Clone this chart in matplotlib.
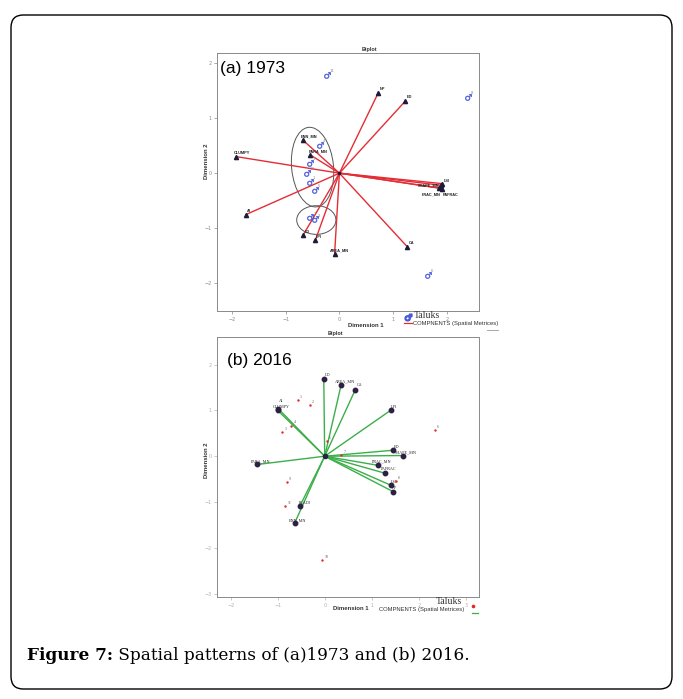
import matplotlib
matplotlib.use("Agg")
import matplotlib.pyplot as plt
from matplotlib.patches import Ellipse, FancyBboxPatch
from matplotlib.lines import Line2D

W, H = 683, 699

# ---- 1973 biplot data ----
metrics_73 = ['NP', 'ED', 'ENN_MN', 'PARA_MN', 'CLUMPY', 'AI', 'LSI', 'SHAPE_MN',
              'FRAC_MN', 'PAFRAC', 'CA', 'LD', 'LPI', 'AREA_MN']
dim1_73 = [0.72, 1.23, -0.68, -0.54, -1.92, -1.74, 1.92, 1.90, 1.86, 1.92, 1.26, -0.68, -0.45, -0.09]
dim2_73 = [1.45, 1.31, 0.60, 0.33, 0.30, -0.75, -0.19, -0.22, -0.27, -0.28, -1.33, -1.13, -1.22, -1.47]

taluk_73 = ['11', '8', '4', '9', '10', '1', '5', '7', '3', '6']
t_dim1_73 = [-0.23, 2.40, -0.36, -0.54, -0.60, -0.55, -0.45, -0.54, -0.45, 1.65]
t_dim2_73 = [1.79, 1.39, 0.52, 0.19, 0.00, -0.16, -0.30, -0.80, -0.84, -1.85]

# ---- 2016 biplot data ----
metrics_16 = ['LD', 'AREA_MN', 'CA', 'LPI', 'AI', 'CLUMPY', 'ED', 'SHAPE_MN', 'FRAC_MN',
              'PAFRAC', 'PARA_MN', 'LSI', 'NP', 'PLADJ', 'ENN_MN']
dim1_16 = [-0.02, 0.35, 0.65, 1.40, -0.99, -1.00, 1.45, 1.66, 1.14, 1.28, -1.43, 1.40, 1.45, -0.53, -0.64]
dim2_16 = [1.69, 1.56, 1.45, 1.00, 1.04, 1.00, 0.13, 0.015, -0.20, -0.37, -0.18, -0.63, -0.77, -1.09, -1.46]

taluk_16 = ['1', '2', '4', '3', '5', '6', '7', '8', '9', '11', '10']
t_dim1_16 = [-0.57, -0.32, -0.71, -0.90, 0.04, 2.34, 0.35, 1.52, -0.81, -0.84, -0.05]
t_dim2_16 = [1.22, 1.12, 0.67, 0.53, 0.33, 0.58, 0.02, -0.55, -0.56, -1.09, -2.27]

# label offsets (points) for the metric names
off_73 = {'NP': (1, 2, 'left'), 'ED': (1, 2, 'left'), 'ENN_MN': (-1.5, 2, 'left'),
          'PARA_MN': (-1.5, 2, 'left'), 'CLUMPY': (-2, 2, 'left'), 'AI': (1, 1.5, 'left'),
          'LSI': (1, 1.5, 'left'), 'SHAPE_MN': (-1.5, -1, 'right'), 'FRAC_MN': (1, -5, 'right'),
          'PAFRAC': (0, -5, 'left'), 'CA': (1, 2, 'left'), 'LD': (1, 2, 'left'),
          'LPI': (0.5, 2, 'left'), 'AREA_MN': (-3.5, 2, 'left')}
off_16 = {'LD': (1, 2, 'left'), 'AREA_MN': (-4.5, 2, 'left'), 'CA': (1, 3, 'left'),
          'LPI': (0.5, 1.5, 'left'), 'AI': (0.5, 4.5, 'left'), 'CLUMPY': (-3.5, 1.5, 'left'),
          'ED': (1, 1.5, 'left'), 'SHAPE_MN': (-6, 1.5, 'left'), 'FRAC_MN': (-5, 2, 'left'),
          'PAFRAC': (-3, 2, 'left'), 'PARA_MN': (-5, 1.5, 'left'), 'LSI': (0.5, 1.5, 'left'),
          'NP': (-0.5, 2, 'left'), 'PLADJ': (-0.5, 1.5, 'left'), 'ENN_MN': (-4.5, 1.5, 'left')}


def fx(px):
    return px / W


def fy(py):
    return 1 - py / H


def style_axes(ax):
    for s in ax.spines.values():
        s.set_color('#8a8a8a')
        s.set_linewidth(0.7)
    ax.tick_params(length=2, width=0.5, colors='#8a8a8a', labelsize=3.5, pad=2)


fig = plt.figure(figsize=(W / 100, H / 100), dpi=100)

# outer rounded frame
fig.add_artist(FancyBboxPatch((fx(11), fy(689)), fx(672) - fx(11), fy(15) - fy(689),
                              boxstyle='round,pad=0,rounding_size=0.018',
                              transform=fig.transFigure, fill=False, ec='black', lw=1))

# ---------------- (a) 1973 ----------------
ax1 = fig.add_axes([fx(217), fy(311), fx(479) - fx(217), fy(53) - fy(311)])
style_axes(ax1)
ax1.set_xlim(-2.28, 2.6)
ax1.set_ylim(-2.5, 2.18)
ax1.set_xticks([-2, -1, 0, 1, 2])
ax1.set_yticks([-2, -1, 0, 1, 2])

for name, x, y in zip(metrics_73, dim1_73, dim2_73):
    ax1.plot([0, x], [0, y], color='#e52d35', lw=1.0, zorder=2)
    ax1.plot(x, y, marker='^', color='#1c1c3a', ms=3, zorder=3)
    dx, dy, ha = off_73[name]
    ax1.annotate(name, (x, y), xytext=(dx, dy), textcoords='offset points', ha=ha,
                 fontsize=2.8, fontweight='bold', color='#222222', family='Liberation Sans')
ax1.plot(0, 0, marker='s', color='#1c1c3a', ms=2, zorder=4)

ax1.scatter(t_dim1_73, t_dim2_73, marker='$\u2642$', s=22, color='#4a5bd8', lw=0.3, zorder=5)
for lab, x, y in zip(taluk_73, t_dim1_73, t_dim2_73):
    ax1.annotate(lab, (x, y), xytext=(2, 2), textcoords='offset points',
                 fontsize=2.8, color='#8a8a8a')

ax1.add_patch(Ellipse((-0.5, 0.11), 0.78, 1.45, angle=6, fill=False, ec='#555555', lw=0.7))
ax1.add_patch(Ellipse((-0.43, -0.85), 0.73, 0.52, angle=0, fill=False, ec='#555555', lw=0.7))

ax1.text(0.01, 0.97, '(a) 1973', transform=ax1.transAxes, fontsize=12.5,
         family='Liberation Sans', va='top', ha='left')
fig.text(fx(369), fy(50), 'Biplot', fontsize=4, fontweight='bold', ha='center', va='center',
         family='Liberation Sans', color='#333333')
fig.text(fx(366), fy(326), 'Dimension 1', fontsize=4.3, fontweight='bold', ha='center',
         va='center', family='Liberation Sans', color='#333333')
fig.text(fx(206), fy(161), 'Dimension 2', fontsize=4.3, fontweight='bold', ha='center',
         va='center', rotation=90, family='Liberation Sans', color='#333333')

# legend (a)
fig.add_artist(Line2D([fx(408)], [fy(317)], marker='$\u2642$', ms=5, color='#4a5bd8', lw=0,
                      transform=fig.transFigure))
fig.text(fx(414), fy(315), 'Taluks', fontsize=7, family='Liberation Serif', va='center',
         color='#333333')
fig.add_artist(Line2D([fx(404), fx(412)], [fy(323), fy(323)], color='#e52d35', lw=0.9,
                      transform=fig.transFigure))
fig.text(fx(413), fy(324), 'COMPNENTS (Spatial Metrices)', fontsize=4.2,
         family='Liberation Sans', va='center', color='#333333')
fig.add_artist(Line2D([fx(487), fx(498)], [fy(330), fy(330)], color='#999999', lw=0.6,
                      transform=fig.transFigure))

# ---------------- (b) 2016 ----------------
ax2 = fig.add_axes([fx(217), fy(597), fx(479) - fx(217), fy(337) - fy(597)])
style_axes(ax2)
ax2.tick_params(colors='#b0b0b0')
ax2.set_xlim(-2.29, 3.28)
ax2.set_ylim(-3.07, 2.6)
ax2.set_xticks([-2, -1, 0, 1, 2, 3])
ax2.set_yticks([-3, -2, -1, 0, 1, 2])

for name, x, y in zip(metrics_16, dim1_16, dim2_16):
    ax2.plot([0, x], [0, y], color='#3cae4a', lw=1.0, zorder=2)
    ax2.plot(x, y, marker='o', color='#2e1f45', ms=3.2, zorder=3)
    dx, dy, ha = off_16[name]
    ax2.annotate(name, (x, y), xytext=(dx, dy), textcoords='offset points', ha=ha,
                 fontsize=3, color='#222222', family='Liberation Serif')
ax2.plot(0, 0, marker='o', color='#2e1f45', ms=3, zorder=4)

ax2.scatter(t_dim1_16, t_dim2_16, marker='o', s=3, color='#e02828', lw=0, zorder=5)
for lab, x, y in zip(taluk_16, t_dim1_16, t_dim2_16):
    ax2.annotate(lab, (x, y), xytext=(1.5, 1.5), textcoords='offset points',
                 fontsize=2.8, color='#555555', family='Liberation Serif')

ax2.text(0.04, 0.94, '(b) 2016', transform=ax2.transAxes, fontsize=12.5,
         family='Liberation Sans', va='top', ha='left')
fig.text(fx(335), fy(333), 'Biplot', fontsize=4, fontweight='bold', ha='center', va='center',
         family='Liberation Sans', color='#333333')
fig.text(fx(351), fy(608), 'Dimension 1', fontsize=4.3, fontweight='bold', ha='center',
         va='center', family='Liberation Sans', color='#333333')
fig.text(fx(206), fy(460), 'Dimension 2', fontsize=4.3, fontweight='bold', ha='center',
         va='center', rotation=90, family='Liberation Sans', color='#333333')

# legend (b)
fig.text(fx(436), fy(601), 'Taluks', fontsize=7, family='Liberation Serif', va='center',
         color='#333333')
fig.add_artist(Line2D([fx(473)], [fy(606)], marker='o', ms=1.6, color='#e02828', lw=0,
                      transform=fig.transFigure))
fig.text(fx(379), fy(610), 'COMPNENTS (Spatial Metrices)', fontsize=4.2,
         family='Liberation Sans', va='center', color='#333333')
fig.add_artist(Line2D([fx(472), fx(478)], [fy(613), fy(613)], color='#3cae4a', lw=0.9,
                      transform=fig.transFigure))

# caption
t1 = fig.text(fx(27), fy(655), 'Figure 7:', fontsize=12.2, fontweight='bold',
              family='DejaVu Serif', va='center', ha='left')
ax2.annotate(' Spatial patterns of (a)1973 and (b) 2016.', xy=(1, 0), xycoords=t1,
             va='bottom', ha='left', fontsize=12.2, family='DejaVu Serif',
             annotation_clip=False)

fig.savefig('out.png', dpi=100)
